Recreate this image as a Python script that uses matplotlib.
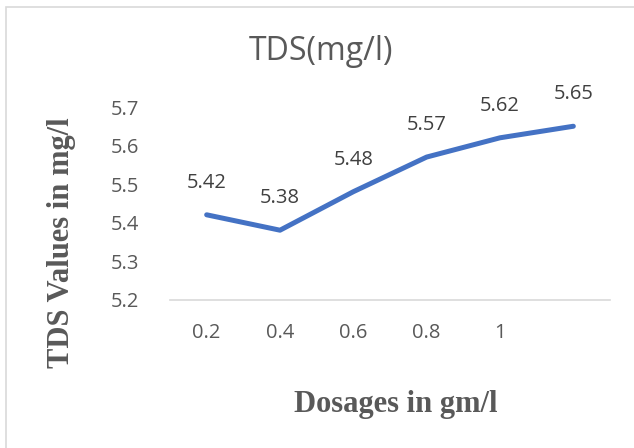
import matplotlib
matplotlib.use('Agg')
import matplotlib.pyplot as plt
from matplotlib.patches import Rectangle

# dados do gráfico
dosagens = ['0.2', '0.4', '0.6', '0.8', '1', '']
tds = [5.42, 5.38, 5.48, 5.57, 5.62, 5.65]
y_ticks = [5.2, 5.3, 5.4, 5.5, 5.6, 5.7]

cinza = '#595959'
fonte = 'Open Sans'

fig = plt.figure(figsize=(6.34, 4.48), dpi=100)

# moldura clara em volta do gráfico (estilo Excel)
fig.patches.append(Rectangle((6 / 634, -0.1), 1.2, 1 - 7 / 448 + 0.1,
                             transform=fig.transFigure, fill=False,
                             edgecolor='#D9D9D9', linewidth=1.2))

ax = fig.add_axes([170 / 634, 1 - 299.5 / 448, 440 / 634, 192.5 / 448])

x = list(range(len(tds)))
ax.plot(x, tds, color='#4472C4', linewidth=3.6, solid_capstyle='round',
        solid_joinstyle='round')

for xi, v in zip(x, tds):
    ax.annotate(f'{v:.2f}', (xi, v), xytext=(0, 23), textcoords='offset points',
                ha='center', va='center', fontsize=14.5, color='#404040',
                family=fonte)

ax.set_xlim(-0.5, len(tds) - 0.5)
ax.set_ylim(5.2, 5.7)
ax.set_xticks(x)
ax.set_xticklabels(dosagens)
ax.set_yticks(y_ticks)
ax.set_yticklabels([f'{t:.1f}' for t in y_ticks])
ax.tick_params(length=0, labelsize=14.5, labelcolor=cinza)
ax.tick_params(axis='y', pad=22)
ax.tick_params(axis='x', pad=17)
for lab in ax.get_xticklabels() + ax.get_yticklabels():
    lab.set_family(fonte)

for s in ['top', 'right', 'left']:
    ax.spines[s].set_visible(False)
ax.spines['bottom'].set_color('#D9D9D9')
ax.spines['bottom'].set_linewidth(1.2)

fig.text(321 / 634, 1 - 51 / 448, 'TDS(mg/l)', ha='center', va='center',
         fontsize=23, color=cinza, family=fonte)
fig.text(396 / 634, 1 - 404 / 448, 'Dosages in gm/l', ha='center', va='center',
         fontsize=22, color=cinza, family='Liberation Serif', fontweight='bold')
fig.text(62 / 634, 1 - 243 / 448, 'TDS Values in mg/l', ha='center', va='center',
         rotation=90, fontsize=22, color=cinza, family='Liberation Serif',
         fontweight='bold')

fig.savefig('out.png', dpi=100)
